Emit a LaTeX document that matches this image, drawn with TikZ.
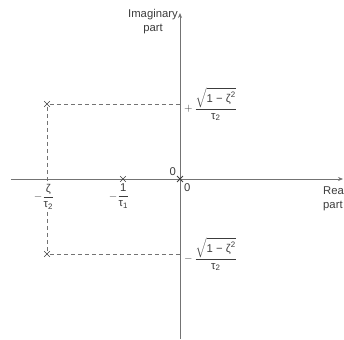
\documentclass[tikz,border=0pt]{standalone}
\usepackage{amsmath}
\usepackage{fontspec}
\setmainfont{Liberation Sans}
\usetikzlibrary{arrows.meta,positioning,shapes.misc}
\definecolor{axisgray}{RGB}{115,115,115}
\definecolor{textgray}{RGB}{60,60,60}
\newcommand{\zetaT}{\text{ζ}}
\newcommand{\tauT}{\text{τ}}
\newcommand{\numT}[1]{\text{#1}}

\begin{document}
\begin{tikzpicture}[x=1pt,y=1pt,>={Stealth[length=5pt,width=4pt]},
  font=\fontsize{11.3}{14}\selectfont,
  axis/.style={draw=axisgray,line width=0.7pt},
  guide/.style={draw=axisgray,dash pattern=on 4pt off 3pt,line width=0.6pt},
  pole/.style={cross out,draw=black!75,line width=0.6pt,minimum size=5pt,inner sep=0pt},
  lbl/.style={text=textgray,inner sep=1pt}]
  \useasboundingbox (-180,-160) rectangle (164,179);
  % axes
  \coordinate (O) at (0,0);
  \coordinate (xL) at (-169,0);
  \coordinate (xR) at (163,0);
  \coordinate (yB) at (0,-160);
  \coordinate (yT) at (0,166);
  \draw[axis,->] (xL) -- (xR);
  \draw[axis,->] (yB) -- (yT);
  % poles
  \node[pole,line width=0.9pt] (p0) at (O) {};
  \node[pole] (p1) at (-57,0) {};
  \node[pole] (pU) at (-133,75) {};
  \node[pole] (pD) at (-133,-75) {};
  \coordinate (iU) at (0,75);
  \coordinate (iD) at (0,-75);
  % projections onto the axes
  \draw[guide] (pU) -- (iU);
  \draw[guide] (pD) -- (iD);
  \draw[guide] (pU) -- (pD);
  % axis labels
  \node[lbl,align=center,anchor=south east] (imlab) at (-1,144) {Imaginary\\part};
  \node[lbl,align=left,anchor=north west] (relab) at (142,-6) {Real\\part};
  \node[lbl,anchor=south east] (oUp) at (-3,2) {0};
  \node[lbl,anchor=north west] (oDn) at (3,-3) {0};
  % pole labels
  \node[lbl,fill=white,anchor=north] (zlab) at (-136,-4)
       {$-\dfrac{\zetaT}{\tauT_{\numT{2}}}$};
  \node[lbl,anchor=north] (tlab) at (-61,-4)
       {$-\dfrac{\numT{1}}{\tauT_{\numT{1}}}$};
  \node[lbl,anchor=west] (ulab) at (3,75)
       {$+\,\dfrac{\sqrt{\numT{1 − ζ}^{\numT{2}}}}{\tauT_{\numT{2}}}$};
  \node[lbl,anchor=west] (dlab) at (3,-75)
       {$-\,\dfrac{\sqrt{\numT{1 − ζ}^{\numT{2}}}}{\tauT_{\numT{2}}}$};
\end{tikzpicture}
\end{document}
